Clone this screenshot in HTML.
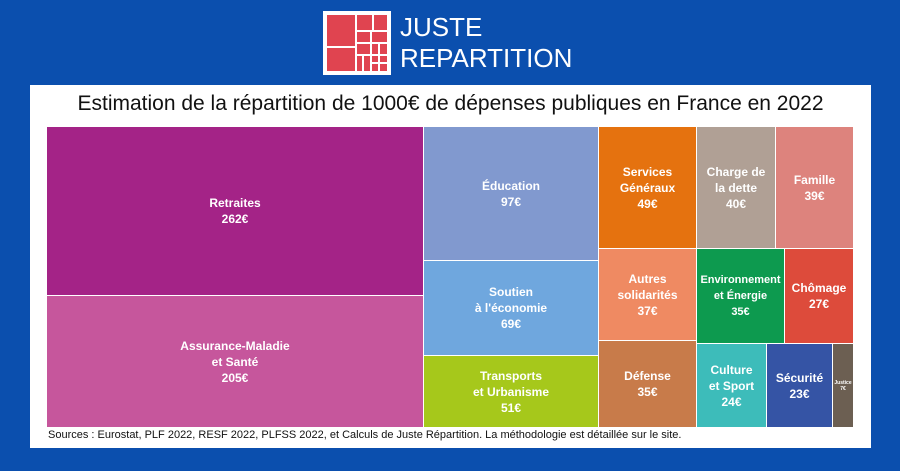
<!DOCTYPE html>
<html><head><meta charset="utf-8"><style>
body{margin:0;width:900px;height:471px;background:#0b4fae;position:relative;overflow:hidden;font-family:"Liberation Sans",sans-serif}
.panel{position:absolute;left:30px;top:85px;width:841px;height:363px;background:#fff}
.r{position:absolute;color:#fff;font-weight:bold;font-size:12px;display:flex;align-items:center;justify-content:center;text-align:center;line-height:16px;box-sizing:border-box}
.logo{position:absolute;left:323px;top:11px;width:68px;height:64px;background:#fff}
</style></head><body>
<div class="logo">
<svg width="68" height="64" viewBox="0 0 68 64">
<rect x="4" y="4" width="60" height="56" fill="#e04450"/>
<g stroke="#fff" stroke-width="2" fill="none">
<line x1="33" y1="4" x2="33" y2="60"/><line x1="4" y1="36" x2="33" y2="36"/>
<line x1="33" y1="20" x2="64" y2="20"/><line x1="50" y1="4" x2="50" y2="20"/>
<line x1="33" y1="32" x2="64" y2="32"/><line x1="48" y1="20" x2="48" y2="60"/>
<line x1="33" y1="44" x2="64" y2="44"/><line x1="40" y1="44" x2="40" y2="60"/>
<line x1="56" y1="32" x2="56" y2="60"/><line x1="48" y1="52" x2="64" y2="52"/>
</g></svg></div>
<div style="position:absolute;left:400px;top:12px;color:#fff;font-size:26px;line-height:31px">JUSTE<br>REPARTITION</div>
<div class="panel"></div>
<div style="position:absolute;left:30px;width:841px;top:92px;text-align:center;font-size:21px;color:#111">Estimation de la répartition de 1000€ de dépenses publiques en France en 2022</div>
<div class="r" style="left:47px;top:127px;width:376px;height:168px;background:#a42387">Retraites<br>262€</div>
<div class="r" style="left:47px;top:296px;width:376px;height:131px;background:#c6569c">Assurance-Maladie<br>et Santé<br>205€</div>
<div class="r" style="left:424px;top:127px;width:174px;height:133px;background:#8199cf">Éducation<br>97€</div>
<div class="r" style="left:424px;top:261px;width:174px;height:94px;background:#6fa7de">Soutien<br>à l'économie<br>69€</div>
<div class="r" style="left:424px;top:356px;width:174px;height:71px;background:#a6c81b">Transports<br>et Urbanisme<br>51€</div>
<div class="r" style="left:599px;top:127px;width:97px;height:121px;background:#e5720f">Services<br>Généraux<br>49€</div>
<div class="r" style="left:697px;top:127px;width:78px;height:121px;background:#b0a095">Charge de<br>la dette<br>40€</div>
<div class="r" style="left:776px;top:127px;width:77px;height:121px;background:#dd837d">Famille<br>39€</div>
<div class="r" style="left:599px;top:249px;width:97px;height:91px;background:#ef8a62">Autres<br>solidarités<br>37€</div>
<div class="r" style="left:697px;top:249px;width:87px;height:94px;background:#0d9a4f;font-size:11px">Environnement<br>et Énergie<br>35€</div>
<div class="r" style="left:785px;top:249px;width:68px;height:94px;background:#dd4b3b">Chômage<br>27€</div>
<div class="r" style="left:599px;top:341px;width:97px;height:86px;background:#c87b4a">Défense<br>35€</div>
<div class="r" style="left:697px;top:344px;width:69px;height:83px;background:#3dbcba">Culture<br>et Sport<br>24€</div>
<div class="r" style="left:767px;top:344px;width:65px;height:83px;background:#3554a5">Sécurité<br>23€</div>
<div class="r" style="left:833px;top:344px;width:20px;height:83px;background:#6c5f52;font-size:5px;line-height:6px">Justice<br>7€</div>
<div style="position:absolute;left:48px;top:429px;font-size:11px;color:#111">Sources : Eurostat, PLF 2022, RESF 2022, PLFSS 2022, et Calculs de Juste Répartition. La méthodologie est détaillée sur le site.</div>
</body></html>
